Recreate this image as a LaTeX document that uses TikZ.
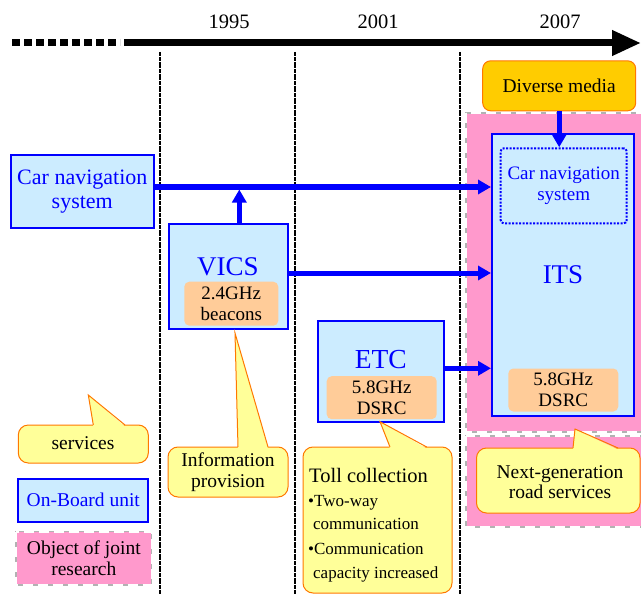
\documentclass[tikz,border=0pt]{standalone}
\usepackage{fontspec}
\setmainfont{Liberation Serif}
\usetikzlibrary{arrows.meta}
\definecolor{obublue}{RGB}{0,0,255}
\definecolor{obufill}{RGB}{204,236,255}
\definecolor{peach}{RGB}{255,204,153}
\definecolor{jpink}{RGB}{255,153,204}
\definecolor{gold}{RGB}{255,204,0}
\definecolor{callfill}{RGB}{255,255,153}
\definecolor{callline}{RGB}{255,120,0}
\newcommand{\fsz}[2]{\fontsize{#1}{#2}\selectfont}
\begin{document}
\begin{tikzpicture}[x=1pt,y=-1pt,
  obu/.style={draw=obublue, fill=obufill, line width=2pt, inner sep=0pt, text=obublue, align=center},
  freq/.style={fill=peach, rounded corners=5pt, inner sep=0pt, align=center, font=\fsz{19}{20.5}},
  flow/.style={draw=obublue, line width=5pt, -{Triangle[length=13pt,width=14pt]}},
  vline/.style={draw=black, line width=1.2pt, dash pattern=on 2pt off 0.4pt},
  jointbase/.style={fill=jpink, draw=gray!60, line width=1.5pt},
  jointdash/.style={draw=white, line width=2pt, dash pattern=on 10pt off 5pt},
  callbox/.style={fill=callfill, draw=callline, line width=1pt, rounded corners=10pt},
  callptr/.style={fill=callfill},
  calledge/.style={draw=callline, line width=1pt, line join=miter},
  txt/.style={inner sep=0pt, align=center, font=\fsz{19.5}{20.5}},
  year/.style={inner sep=0pt, font=\fsz{20.5}{22}},
  bul/.style={inner sep=0pt, anchor=base west, font=\fsz{17}{20}}
]
\useasboundingbox (0,0) rectangle (641,594);

% timeline
\draw[line width=7pt, dash pattern=on 8pt off 4pt] (12,43) -- (120,43);
\draw[line width=7pt, -{Triangle[length=29pt,width=24pt]}] (124,43) -- (641,43);
\node[year] (y1995) at (229,22) {1995};
\node[year] (y2001) at (378,22) {2001};
\node[year] (y2007) at (560,22) {2007};

% period separators
\draw[vline] (160,52) -- (160,594);
\draw[vline] (295,52) -- (295,594);
\draw[vline] (460,52) -- (460,594);

% joint research regions
\draw[jointbase] (466,113) rectangle (642,432);
\draw[jointdash] (466,113) rectangle (642,432);
\draw[jointbase] (466,436) rectangle (642,527);
\draw[jointdash] (466,436) rectangle (642,527);

% diverse media
\node[fill=gold, draw=callline, line width=1pt, rounded corners=8pt, minimum width=153pt, minimum height=50pt, inner sep=0pt, font=\fsz{19.5}{21}] (media) at (559.2,85.8) {Diverse media};

% ITS
\node[obu, minimum width=142pt, minimum height=282pt] (its) at (563,275) {};
\node[draw=obublue, fill=obufill, line width=2pt, dash pattern=on 2pt off 1.5pt, rounded corners=3pt, minimum width=126pt, minimum height=75pt, inner sep=0pt, text=obublue, align=center, font=\fsz{19}{20.5}] (cn2) at (563.7,185.8) {Car navigation\\system};
\node[txt, text=obublue, font=\fsz{27}{28}] (itslbl) at (563,275) {ITS};
\node[freq, minimum width=110pt, minimum height=43pt] (itsfreq) at (563.3,390) {5.8GHz\\DSRC};

% car navigation
\node[obu, minimum width=143pt, minimum height=73pt, font=\fsz{22}{24.5}] (carnav) at (82.3,191.7) {Car navigation\\system};

% VICS
\node[obu, minimum width=119pt, minimum height=105pt] (vics) at (228,276.5) {};
\node[txt, text=obublue, font=\fsz{27}{28}] (vicslbl) at (228,266.7) {VICS};
\node[freq, minimum width=94pt, minimum height=44pt] (vicsfreq) at (231.3,303.7) {2.4GHz\\beacons};

% ETC
\node[obu, minimum width=126pt, minimum height=101pt] (etc) at (380.8,371.5) {};
\node[txt, text=obublue, font=\fsz{27.5}{28}] (etclbl) at (380.8,360) {ETC};
\node[freq, minimum width=110pt, minimum height=43pt] (etcfreq) at (381.7,397.7) {5.8GHz\\DSRC};

% connectors
\coordinate (jn) at (239.3,187);
\coordinate (jv) at (300,273);
\coordinate (je) at (460,368.3);
\draw[flow] (carnav.east |- jn) -- (its.west |- jn);
\draw[flow] (vics.north -| jn) -- ([yshift=-2.5pt]jn);
\draw[flow] (vics.east |- jv) -- (its.west |- jv);
\draw[flow] (etc.east |- je) -- (its.west |- je);
\draw[flow] (media.south) -- (cn2.north -| media.south);

% callout: information provision
\draw[callbox] (168,447) rectangle (288,497);
\fill[callptr] (238,448.5) -- (235,333) -- (268,448.5) -- cycle;
\draw[calledge] (238,447) -- (235,333) -- (268,447);
\node[txt] (info) at (228,472) {Information\\provision};

% callout: toll collection
\draw[callbox] (303,447) rectangle (452,593);
\fill[callptr] (390,448.5) -- (380,421.7) -- (426.7,448.5) -- cycle;
\draw[calledge] (390,447) -- (380,421.7) -- (426.7,447);
\node[bul, font=\fsz{20.5}{22}] (toll) at (309,482) {Toll collection};
\node[bul] (b1) at (308,506) {•Two-way};
\node[bul] (b1b) at (313,529) {communication};
\node[bul] (b2) at (308,554) {•Communication};
\node[bul] (b2b) at (313,578) {capacity increased};

% callout: next-generation road services
\draw[callbox] (476.5,448) rectangle (640,513);
\fill[callptr] (573,449.5) -- (575,429) -- (618,449.5) -- cycle;
\draw[calledge] (573,448) -- (575,429) -- (618,448);
\node[txt] (nextgen) at (560,482) {Next-generation\\road services};

% legend
\draw[callbox] (18.3,425) rectangle (148.3,463);
\fill[callptr] (93.3,426.5) -- (88.3,395) -- (125,426.5) -- cycle;
\draw[calledge] (93.3,425) -- (88.3,395) -- (125,425);
\node[txt] (services) at (83,443.5) {services};
\node[obu, minimum width=130pt, minimum height=43pt, font=\fsz{19.5}{20.5}] (onboard) at (83.3,500) {On-Board unit};
\draw[jointbase] (16,531.7) rectangle (151.7,585);
\draw[jointdash] (16,531.7) rectangle (151.7,585);
\node[txt] (joint) at (83.8,558) {Object of joint\\research};
\end{tikzpicture}
\end{document}
